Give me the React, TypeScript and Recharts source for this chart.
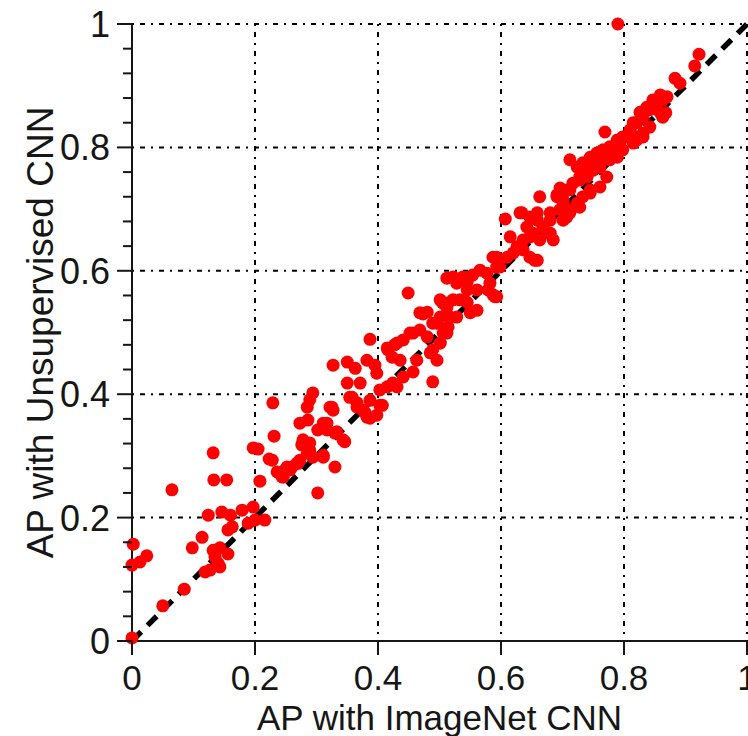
import { ScatterChart, Scatter, XAxis, YAxis, CartesianGrid, ReferenceLine } from 'recharts'

// [ImageNet AP, Unsupervised AP] pairs
const lowRange: [number, number][] = [
  [0, 0.005], [0.05, 0.057], [0.085, 0.084], [0, 0.123], [0.013, 0.128], [0.024, 0.138],
  [0.002, 0.157], [0.065, 0.245], [0.132, 0.305], [0.133, 0.261], [0.154, 0.261], [0.098, 0.151],
  [0.114, 0.168], [0.124, 0.204], [0.146, 0.209], [0.16, 0.204], [0.163, 0.185], [0.156, 0.18],
  [0.132, 0.147], [0.143, 0.151], [0.156, 0.141], [0.119, 0.112], [0.127, 0.115], [0.14, 0.126],
  [0.143, 0.12], [0.135, 0.136], [0.179, 0.212], [0.197, 0.217], [0.189, 0.191], [0.2, 0.196],
  [0.216, 0.196], [0.197, 0.313], [0.205, 0.311], [0.208, 0.259], [0.231, 0.332], [0.223, 0.295],
  [0.236, 0.274], [0.244, 0.266], [0.249, 0.277], [0.26, 0.282], [0.27, 0.288], [0.276, 0.318],
  [0.229, 0.386], [0.228, 0.293], [0.252, 0.282], [0.273, 0.293], [0.285, 0.305], [0.289, 0.321],
  [0.278, 0.326], [0.273, 0.353], [0.286, 0.358], [0.294, 0.402], [0.289, 0.391], [0.257, 0.277],
  [0.246, 0.266], [0.294, 0.298], [0.285, 0.379], [0.278, 0.321], [0.289, 0.309], [0.268, 0.288],
]

const midRange: [number, number][] = [
  [0.302, 0.24], [0.311, 0.298], [0.33, 0.282], [0.302, 0.342], [0.317, 0.353], [0.325, 0.379],
  [0.327, 0.374], [0.333, 0.339], [0.343, 0.326], [0.327, 0.447], [0.35, 0.452], [0.363, 0.442],
  [0.35, 0.418], [0.371, 0.418], [0.358, 0.395], [0.366, 0.379], [0.382, 0.455], [0.395, 0.447],
  [0.398, 0.434], [0.387, 0.489], [0.379, 0.37], [0.387, 0.361], [0.398, 0.366], [0.407, 0.382],
  [0.416, 0.472], [0.423, 0.46], [0.436, 0.455], [0.431, 0.483], [0.441, 0.488], [0.452, 0.499],
  [0.424, 0.418], [0.431, 0.412], [0.441, 0.428], [0.457, 0.436], [0.449, 0.564], [0.489, 0.42],
  [0.468, 0.532], [0.48, 0.533], [0.489, 0.515], [0.501, 0.525], [0.512, 0.548], [0.522, 0.553],
  [0.457, 0.499], [0.468, 0.504], [0.48, 0.493], [0.489, 0.472], [0.501, 0.483], [0.512, 0.499],
  [0.463, 0.455], [0.485, 0.467], [0.496, 0.455], [0.512, 0.588], [0.522, 0.59], [0.545, 0.582],
  [0.554, 0.593], [0.566, 0.601], [0.587, 0.622], [0.593, 0.606], [0.587, 0.561], [0.561, 0.536],
  [0.545, 0.549], [0.528, 0.525], [0.514, 0.509], [0.415, 0.475], [0.427, 0.48], [0.473, 0.53],
  [0.505, 0.548], [0.322, 0.379], [0.311, 0.353], [0.317, 0.342], [0.33, 0.337], [0.346, 0.323],
  [0.311, 0.301], [0.354, 0.395], [0.366, 0.386], [0.376, 0.374], [0.382, 0.363], [0.403, 0.382],
  [0.387, 0.39], [0.403, 0.407], [0.415, 0.412], [0.528, 0.58], [0.538, 0.59], [0.577, 0.596],
  [0.582, 0.58], [0.593, 0.558], [0.579, 0.569], [0.501, 0.553], [0.512, 0.541], [0.517, 0.525],
  [0.496, 0.515], [0.506, 0.499], [0.501, 0.483], [0.533, 0.553], [0.55, 0.532], [0.545, 0.569],
  [0.561, 0.569], [0.59, 0.558],
]

const highRange: [number, number][] = [
  [0.593, 0.622], [0.598, 0.606], [0.61, 0.622], [0.62, 0.629], [0.626, 0.639], [0.615, 0.655],
  [0.636, 0.65], [0.647, 0.655], [0.659, 0.617], [0.647, 0.622], [0.636, 0.634], [0.631, 0.694],
  [0.647, 0.687], [0.659, 0.682], [0.668, 0.671], [0.68, 0.661], [0.685, 0.65], [0.652, 0.661],
  [0.663, 0.65], [0.642, 0.671], [0.691, 0.72], [0.701, 0.71], [0.712, 0.699], [0.724, 0.71],
  [0.733, 0.72], [0.745, 0.731], [0.696, 0.699], [0.707, 0.687], [0.607, 0.684], [0.663, 0.72],
  [0.712, 0.78], [0.769, 0.825], [0.696, 0.734], [0.691, 0.723], [0.634, 0.694], [0.659, 0.694],
  [0.68, 0.682], [0.675, 0.661], [0.655, 0.617], [0.724, 0.768], [0.733, 0.775], [0.745, 0.784],
  [0.756, 0.791], [0.766, 0.796], [0.777, 0.801], [0.789, 0.812], [0.798, 0.817], [0.81, 0.828],
  [0.821, 0.84], [0.828, 0.849], [0.842, 0.861], [0.854, 0.873], [0.863, 0.877], [0.868, 0.856],
  [0.728, 0.747], [0.74, 0.752], [0.75, 0.763], [0.761, 0.768], [0.777, 0.78], [0.789, 0.784],
  [0.798, 0.796], [0.821, 0.812], [0.831, 0.823], [0.842, 0.833], [0.712, 0.731], [0.701, 0.715],
  [0.68, 0.694], [0.922, 0.951], [0.915, 0.932], [0.883, 0.912], [0.891, 0.904], [0.859, 0.885],
  [0.87, 0.882], [0.847, 0.877], [0.837, 0.865], [0.826, 0.857], [0.831, 0.849], [0.859, 0.856],
  [0.863, 0.849], [0.815, 0.84], [0.805, 0.817], [0.793, 0.807], [0.782, 0.796], [0.772, 0.784],
  [0.761, 0.78], [0.75, 0.775], [0.74, 0.763], [0.728, 0.752], [0.717, 0.742], [0.707, 0.731],
  [0.815, 0.807], [0.831, 0.817], [0.81, 0.828], [0.728, 0.703], [0.712, 0.694], [0.701, 0.682],
  [0.745, 0.726], [0.761, 0.736], [0.772, 0.752], [0.79, 1.0],
]

const xTicks = [0, 0.2, 0.4, 0.6, 0.8, 1]
const yMajorTicks = [0.2, 0.4, 0.6, 0.8, 1]
const yTicks = [
  0, 0.04, 0.08, 0.12, 0.16, 0.2, 0.24, 0.28, 0.32, 0.36, 0.4, 0.44, 0.48,
  0.52, 0.56, 0.6, 0.64, 0.68, 0.72, 0.76, 0.8, 0.84, 0.88, 0.92, 0.96, 1,
]

const points = [...lowRange, ...midRange, ...highRange].map(([x, y]) => ({ x, y }))

const FONT = '"Liberation Sans", Arial, sans-serif'
const INK = '#161616'
const GRID_DASH = '2 6 5 6'

const fmt = (v: number) => (v === 0 ? '0' : v === 1 ? '1' : v.toFixed(1))

// eslint-disable-next-line @typescript-eslint/no-explicit-any
function YTick({ x, y, payload }: any) {
  const v = payload.value
  const major = Math.abs(v * 5 - Math.round(v * 5)) < 1e-6
  return (
    <g>
      <line x1={x - (major ? 15 : 9)} x2={x} y1={y} y2={y} stroke={INK} strokeWidth={2} />
      {major && (
        <text x={x - 22} y={y} dy="0.36em" textAnchor="end" fontSize={36} fontFamily={FONT} fill={INK}>
          {fmt(v)}
        </text>
      )}
    </g>
  )
}

// eslint-disable-next-line @typescript-eslint/no-explicit-any
function XTick({ x, y, payload }: any) {
  return (
    <g>
      <line x1={x} x2={x} y1={y} y2={y + 14} stroke={INK} strokeWidth={2} />
      <text x={x} y={y + 49} textAnchor="middle" fontSize={35} fontFamily={FONT} fill={INK}>
        {fmt(payload.value)}
      </text>
    </g>
  )
}

export default function App() {
  return (
    <div style={{ position: 'absolute', left: 0, top: 0, width: 748, height: 736, background: '#fff' }}>
      <ScatterChart width={748} height={736} margin={{ top: 24, right: 1, bottom: 0, left: 0 }}>
        <CartesianGrid stroke="#000" strokeWidth={2} strokeDasharray={GRID_DASH} horizontal={false} />
        {yMajorTicks.map((v) => (
          <ReferenceLine key={v} y={v} stroke="#000" strokeWidth={2} strokeDasharray={GRID_DASH} />
        ))}
        <XAxis
          type="number"
          dataKey="x"
          domain={[0, 1]}
          ticks={xTicks}
          height={95}
          tickSize={0}
          tickMargin={0}
          tickLine={false}
          axisLine={{ stroke: INK, strokeWidth: 2 }}
          tick={<XTick />}
          interval={0}
          label={{
            value: 'AP with ImageNet CNN',
            position: 'insideBottom',
            offset: 6,
            fontSize: 35,
            fontFamily: FONT,
            fill: INK,
          }}
        />
        <YAxis
          type="number"
          dataKey="y"
          domain={[0, 1]}
          ticks={yTicks}
          width={132}
          tickSize={0}
          tickMargin={0}
          tickLine={false}
          axisLine={{ stroke: INK, strokeWidth: 2 }}
          tick={<YTick />}
          interval={0}
          label={{
            value: 'AP with Unsupervised CNN',
            angle: -90,
            position: 'insideLeft',
            offset: 40,
            fontSize: 37,
            fontFamily: FONT,
            fill: INK,
            style: { textAnchor: 'middle' },
          }}
        />
        <Scatter
          data={points}
          isAnimationActive={false}
          shape={(p: any) => <circle cx={p.cx} cy={p.cy} r={6.5} fill="#ff0000" />}
        />
        <ReferenceLine
          segment={[{ x: 0, y: 0 }, { x: 1, y: 1 }]}
          stroke="#000"
          strokeWidth={5.5}
          strokeDasharray="13 9"
        />
      </ScatterChart>
    </div>
  )
}
